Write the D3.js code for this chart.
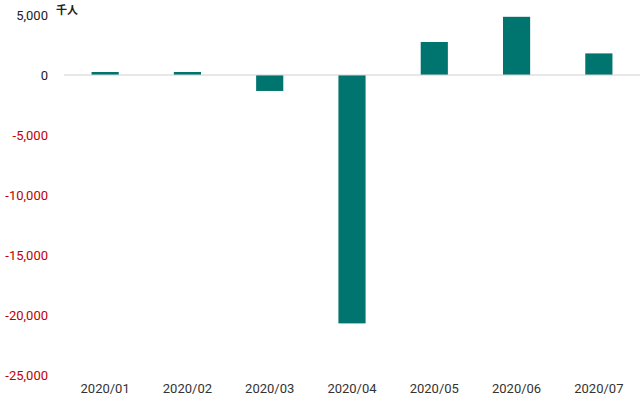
<!DOCTYPE html><html><head><meta charset="utf-8"><script src="https://d3js.org/d3.v7.min.js"></script>
<style>body{margin:0;background:#fff}text{font-family:Roboto,"Noto Sans CJK JP",sans-serif}</style></head><body><svg width="640" height="406"></svg><script>
const categories=["2020/01","2020/02","2020/03","2020/04","2020/05","2020/06","2020/07"];
const values=[250,250,-1330,-20700,2750,4850,1800];
const yTicks=[5000,0,-5000,-10000,-15000,-20000,-25000];
const svg=d3.select("svg");
const x=d3.scaleBand().domain(categories).range([64,640]).paddingInner(0.67).paddingOuter(0.335);
const y=d3.scaleLinear().domain([-25000,5000]).range([375,15]);
svg.selectAll("rect").data(values).join("rect").attr("x",(d,i)=>x(categories[i])).attr("width",x.bandwidth())
 .attr("y",d=>y(Math.max(0,d))).attr("height",d=>Math.abs(y(d)-y(0))).attr("fill","#00756f");
svg.append("line").attr("x1",64).attr("x2",640).attr("y1",y(0)).attr("y2",y(0)).attr("stroke","#d0d0d0");
const fmt=d3.format(",");
svg.selectAll(".yt").data(yTicks).join("text").attr("x",48).attr("y",d=>y(d)+5).attr("text-anchor","end")
 .attr("font-size",13).attr("fill",d=>d<0?"#c00000":"#222").text(d=>fmt(d).replace("−","-"));
svg.selectAll(".xt").data(categories).join("text").attr("x",d=>x(d)+x.bandwidth()/2).attr("y",393).attr("text-anchor","middle")
 .attr("font-size",13).attr("fill","#333").text(d=>d);
svg.append("text").attr("x",56).attr("y",14).attr("font-size",11).attr("font-weight","bold").attr("fill","#222").text("千人");
</script></body></html>
